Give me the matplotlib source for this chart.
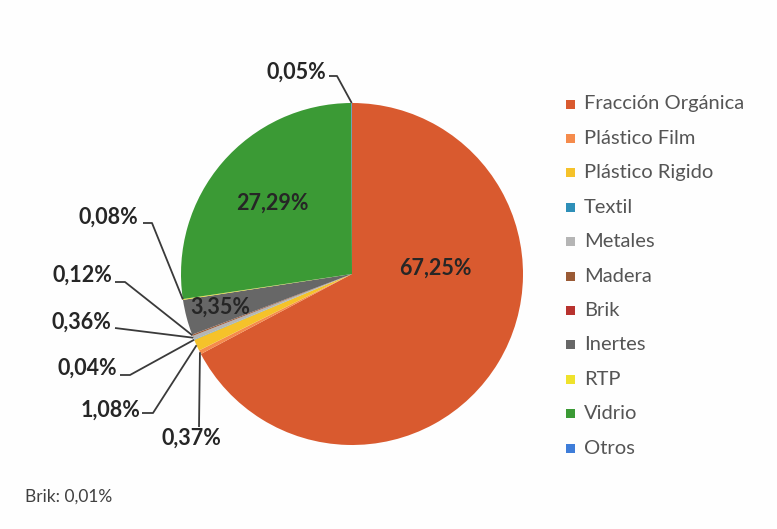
import matplotlib
matplotlib.use('Agg')
import numpy as np
import matplotlib.pyplot as plt
from matplotlib.patches import Rectangle

plt.rcParams['font.family'] = ['Lato', 'DejaVu Sans']

categories = ['Fracción Orgánica', 'Plástico Film', 'Plástico Rigido', 'Textil',
              'Metales', 'Madera', 'Brik', 'Inertes', 'RTP', 'Vidrio', 'Otros']
shares = [67.25, 0.37, 1.08, 0.04, 0.36, 0.12, 0.01, 3.35, 0.08, 27.29, 0.05]
colors = ['#D95A2F', '#F58B4C', '#F5C22A', '#2E8FB8', '#B5B5B5', '#9A5A35',
          '#B8322E', '#676767', '#EFE22C', '#3B9A35', '#3E7DD9']
footnote = 'Brik: 0,01%'

W, H = 777, 529
CX, CY, R = 352, 274, 171


def Y(y):
    # work in top-down pixel rows
    return H - y


def pct(v):
    return ('%.2f%%' % v).replace('.', ',')


fig = plt.figure(figsize=(W / 100, H / 100), dpi=100)
fig.patch.set_facecolor('#FEFEFE')
ax = fig.add_axes([0, 0, 1, 1])

wedges, _ = ax.pie(shares, colors=colors, startangle=90, counterclock=False,
                   radius=R, center=(CX, Y(CY)),
                   wedgeprops=dict(linewidth=0))
ax.set_xlim(0, W)
ax.set_ylim(0, H)
ax.set_aspect('equal')
ax.axis('off')

# labels drawn inside the big slices
inner = {0: (435, 268), 9: (272, 203), 7: (220, 307)}
for i, (x, y) in inner.items():
    ax.text(x, Y(y), pct(shares[i]), ha='center', va='center',
            fontsize=15.5, fontweight='bold', color='#262626')


def edge_point(w):
    mid = np.deg2rad((w.theta1 + w.theta2) / 2)
    return CX + R * np.cos(mid), Y(CY) + R * np.sin(mid)


# outside labels with leader lines: text anchor, then elbow points
outer = {
    10: ((326, 72, 'right'), [(329, 76), (337, 76)]),
    8: ((138, 217, 'right'), [(143, 223), (152, 223)]),
    5: ((112, 275, 'right'), [(115, 282), (125, 282)]),
    4: ((111, 322, 'right'), [(115, 328)]),
    3: ((117, 368, 'right'), [(120, 375), (130, 375)]),
    2: ((140, 410, 'right'), [(142, 413), (153, 413)]),
    1: ((191, 438, 'center'), [(199, 427)]),
}
for i, ((tx, ty, ha), pts) in outer.items():
    ax.text(tx, Y(ty), pct(shares[i]), ha=ha, va='center',
            fontsize=15.5, fontweight='bold', color='#262626')
    ex, ey = edge_point(wedges[i])
    xs = [p[0] for p in pts] + [ex]
    ys = [Y(p[1]) for p in pts] + [ey]
    ax.plot(xs, ys, color='#3A3A3A', lw=1.3, solid_capstyle='butt')

# legend
lx, ly, step = 570, 104, 34.4
for k, (name, c) in enumerate(zip(categories, colors)):
    y = ly + k * step
    ax.add_patch(Rectangle((lx - 4.5, Y(y) - 4.5), 9, 9, color=c, lw=0))
    ax.text(lx + 14, Y(y), name, ha='left', va='center',
            fontsize=14.5, color='#555555')

ax.text(25, Y(497), footnote, ha='left', va='center', fontsize=12.5,
        color='#404040')

fig.savefig('out.png', dpi=100, facecolor=fig.get_facecolor())
